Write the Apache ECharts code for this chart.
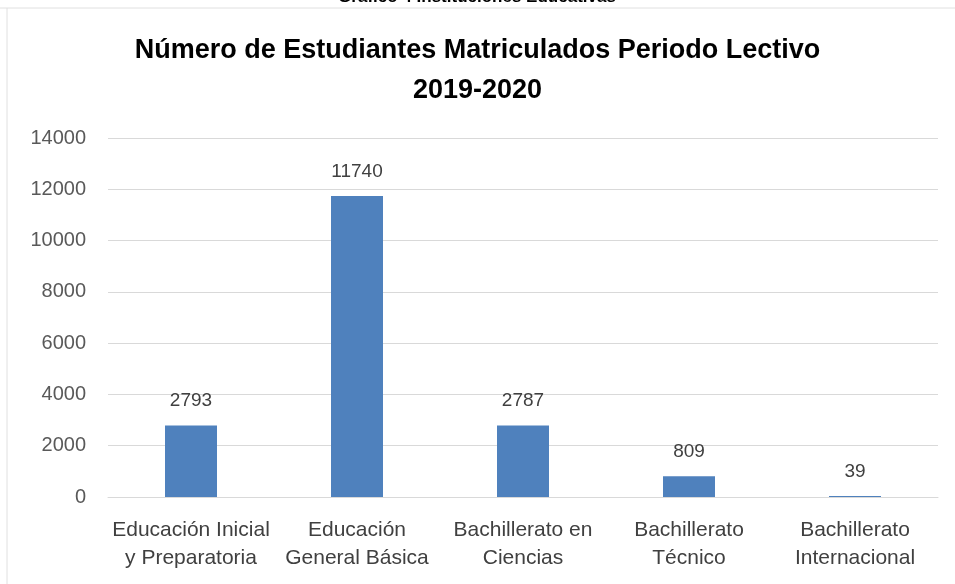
<!DOCTYPE html>
<html lang="es">
<head>
    <meta charset="UTF-8">
    <title>Estudiantes Matriculados</title>
</head>
<body style="margin:0">
<div id="main" style="width:955px;height:584px;"></div>
<script src="https://cdn.jsdelivr.net/npm/echarts@6/dist/echarts.min.js"></script>
<script>
    var categories = ['Educación Inicial\ny Preparatoria', 'Educación\nGeneral Básica', 'Bachillerato en\nCiencias', 'Bachillerato\nTécnico', 'Bachillerato\nInternacional'];
    var students = [2793, 11740, 2787, 809, 39];

    var myChart = echarts.init(document.getElementById('main'));
    var option = {
        backgroundColor: '#fff',
        textStyle: {fontFamily: 'Liberation Sans'},
        title: {
            text: 'Número de Estudiantes Matriculados Periodo Lectivo\n2019-2020',
            left: 'center',
            top: 26,
            textStyle: {fontSize: 27, fontWeight: 'bold', color: '#000', lineHeight: 40}
        },
        graphic: [
            {type: 'text', x: 477, y: -11, style: {text: 'Gráfico 4 Instituciones Educativas', font: 'bold 17px Liberation Sans', fill: '#000', align: 'center'}},
            {type: 'line', shape: {x1: 0, y1: 8, x2: 955, y2: 8}, style: {stroke: '#e0e0e0', lineWidth: 1}},
            {type: 'line', shape: {x1: 7, y1: 8, x2: 7, y2: 584}, style: {stroke: '#e0e0e0', lineWidth: 1}}
        ],
        grid: {left: 108, right: 17, top: 138, bottom: 87},
        xAxis: {
            type: 'category',
            data: categories,
            axisLine: {lineStyle: {color: '#d9d9d9'}},
            axisTick: {show: false},
            axisLabel: {color: '#404040', fontSize: 21, lineHeight: 28, margin: 19, interval: 0}
        },
        yAxis: {
            type: 'value',
            min: 0,
            max: 14000,
            interval: 2000,
            axisLabel: {
                color: '#595959', fontSize: 20, margin: 22,
                formatter: function (v) { return String(v); }
            },
            splitLine: {lineStyle: {color: '#d9d9d9'}}
        },
        series: [{
            type: 'bar',
            data: students,
            barWidth: 52,
            itemStyle: {color: '#4f81bd'},
            label: {show: true, position: 'top', distance: 15, color: '#404040', fontSize: 19}
        }]
    };
    myChart.setOption(option);
</script>
</body>
</html>
